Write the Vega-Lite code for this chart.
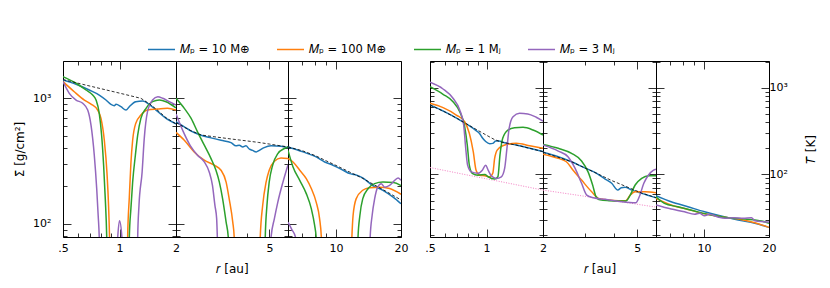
{
"$schema":"https://vega.github.io/schema/vega-lite/v6.json",
"autosize":{"type":"pad"},
"padding":{"left":13,"top":35,"right":0,"bottom":0},
"background":"white",
"datasets":{"d":[
{"s":"S","p":1,"k":"a","r":0.5,"v":1400},{"s":"S","p":1,"k":"a","r":0.587,"v":1294},{"s":"S","p":1,"k":"a","r":0.69,"v":1165},{"s":"S","p":1,"k":"a","r":0.78,"v":1062},{"s":"S","p":1,"k":"a","r":0.847,"v":969},{"s":"S","p":1,"k":"a","r":0.9,"v":895},{"s":"S","p":1,"k":"a","r":0.938,"v":873},{"s":"S","p":1,"k":"a","r":0.958,"v":895},{"s":"S","p":1,"k":"a","r":1.018,"v":857},{"s":"S","p":1,"k":"a","r":1.083,"v":806},{"s":"S","p":1,"k":"a","r":1.128,"v":857},{"s":"S","p":1,"k":"a","r":1.22,"v":940},{"s":"S","p":1,"k":"a","r":1.33,"v":951},{"s":"S","p":1,"k":"a","r":1.44,"v":895},{"s":"S","p":1,"k":"a","r":1.565,"v":806},{"s":"S","p":1,"k":"a","r":1.77,"v":692},{"s":"S","p":1,"k":"a","r":2,"v":625},
{"s":"S","p":1,"k":"b","r":0.5,"v":1358},{"s":"S","p":1,"k":"b","r":0.574,"v":1129},{"s":"S","p":1,"k":"b","r":0.65,"v":969},{"s":"S","p":1,"k":"b","r":0.705,"v":900},{"s":"S","p":1,"k":"b","r":0.765,"v":806},{"s":"S","p":1,"k":"b","r":0.797,"v":692},{"s":"S","p":1,"k":"b","r":0.83,"v":463},{"s":"S","p":1,"k":"b","r":0.858,"v":251},{"s":"S","p":1,"k":"b","r":0.875,"v":136},{"s":"S","p":1,"k":"b","r":0.885,"v":78},{"s":"S","p":1,"k":"b","r":0.895,"v":30},{"s":"S","p":1,"k":"b","r":1.095,"v":30},{"s":"S","p":1,"k":"b","r":1.105,"v":78},{"s":"S","p":1,"k":"b","r":1.128,"v":163},{"s":"S","p":1,"k":"b","r":1.15,"v":302},{"s":"S","p":1,"k":"b","r":1.175,"v":463},{"s":"S","p":1,"k":"b","r":1.22,"v":631},{"s":"S","p":1,"k":"b","r":1.3,"v":735},{"s":"S","p":1,"k":"b","r":1.41,"v":806},{"s":"S","p":1,"k":"b","r":1.6,"v":821},{"s":"S","p":1,"k":"b","r":1.8,"v":832},{"s":"S","p":1,"k":"b","r":2,"v":806},
{"s":"S","p":1,"k":"c","r":0.5,"v":1489},{"s":"S","p":1,"k":"c","r":0.587,"v":1318},{"s":"S","p":1,"k":"c","r":0.663,"v":1165},{"s":"S","p":1,"k":"c","r":0.72,"v":1062},{"s":"S","p":1,"k":"c","r":0.75,"v":969},{"s":"S","p":1,"k":"c","r":0.78,"v":759},{"s":"S","p":1,"k":"c","r":0.803,"v":508},{"s":"S","p":1,"k":"c","r":0.823,"v":293},{"s":"S","p":1,"k":"c","r":0.84,"v":158},{"s":"S","p":1,"k":"c","r":0.855,"v":78},{"s":"S","p":1,"k":"c","r":0.865,"v":30},{"s":"S","p":1,"k":"c","r":1.115,"v":30},{"s":"S","p":1,"k":"c","r":1.128,"v":78},{"s":"S","p":1,"k":"c","r":1.15,"v":132},{"s":"S","p":1,"k":"c","r":1.175,"v":215},{"s":"S","p":1,"k":"c","r":1.215,"v":352},{"s":"S","p":1,"k":"c","r":1.25,"v":508},{"s":"S","p":1,"k":"c","r":1.3,"v":692},{"s":"S","p":1,"k":"c","r":1.385,"v":832},{"s":"S","p":1,"k":"c","r":1.5,"v":940},{"s":"S","p":1,"k":"c","r":1.63,"v":969},{"s":"S","p":1,"k":"c","r":1.77,"v":940},{"s":"S","p":1,"k":"c","r":2,"v":840},
{"s":"S","p":1,"k":"d","r":0.5,"v":1358},{"s":"S","p":1,"k":"d","r":0.54,"v":1096},{"s":"S","p":1,"k":"d","r":0.587,"v":969},{"s":"S","p":1,"k":"d","r":0.637,"v":912},{"s":"S","p":1,"k":"d","r":0.677,"v":806},{"s":"S","p":1,"k":"d","r":0.705,"v":611},{"s":"S","p":1,"k":"d","r":0.734,"v":352},{"s":"S","p":1,"k":"d","r":0.756,"v":191},{"s":"S","p":1,"k":"d","r":0.77,"v":116},{"s":"S","p":1,"k":"d","r":0.78,"v":78},{"s":"S","p":1,"k":"d","r":0.79,"v":30},{"s":"S","p":1,"k":"d","r":0.95,"v":30},{"s":"S","p":1,"k":"d","r":0.978,"v":78},{"s":"S","p":1,"k":"d","r":1.0,"v":106},{"s":"S","p":1,"k":"d","r":1.03,"v":78},{"s":"S","p":1,"k":"d","r":1.06,"v":30},{"s":"S","p":1,"k":"d","r":1.24,"v":30},{"s":"S","p":1,"k":"d","r":1.25,"v":78},{"s":"S","p":1,"k":"d","r":1.27,"v":140},{"s":"S","p":1,"k":"d","r":1.32,"v":259},{"s":"S","p":1,"k":"d","r":1.355,"v":479},{"s":"S","p":1,"k":"d","r":1.41,"v":782},{"s":"S","p":1,"k":"d","r":1.5,"v":969},{"s":"S","p":1,"k":"d","r":1.6,"v":1030},{"s":"S","p":1,"k":"d","r":1.7,"v":1000},{"s":"S","p":1,"k":"d","r":1.84,"v":940},{"s":"S","p":1,"k":"d","r":2,"v":883},
{"s":"S","p":1,"k":"ref","r":0.5,"v":1410},{"s":"S","p":1,"k":"ref","r":0.7,"v":1249},{"s":"S","p":1,"k":"ref","r":1.0,"v":1100},{"s":"S","p":1,"k":"ref","r":1.3,"v":1000},{"s":"S","p":1,"k":"ref","r":1.45,"v":900},{"s":"S","p":1,"k":"ref","r":1.6,"v":800},{"s":"S","p":1,"k":"ref","r":1.77,"v":700},{"s":"S","p":1,"k":"ref","r":2,"v":625},
{"s":"S","p":2,"k":"a","r":2,"v":650},{"s":"S","p":2,"k":"a","r":2.17,"v":592},{"s":"S","p":2,"k":"a","r":2.32,"v":547},{"s":"S","p":2,"k":"a","r":2.56,"v":508},{"s":"S","p":2,"k":"a","r":2.82,"v":484},{"s":"S","p":2,"k":"a","r":3.11,"v":463},{"s":"S","p":2,"k":"a","r":3.43,"v":444},{"s":"S","p":2,"k":"a","r":3.6,"v":418},{"s":"S","p":2,"k":"a","r":3.72,"v":423},{"s":"S","p":2,"k":"a","r":3.85,"v":410},{"s":"S","p":2,"k":"a","r":3.97,"v":418},{"s":"S","p":2,"k":"a","r":4.11,"v":393},{"s":"S","p":2,"k":"a","r":4.24,"v":385},{"s":"S","p":2,"k":"a","r":4.39,"v":374},{"s":"S","p":2,"k":"a","r":4.53,"v":385},{"s":"S","p":2,"k":"a","r":4.75,"v":405},{"s":"S","p":2,"k":"a","r":5.08,"v":418},{"s":"S","p":2,"k":"a","r":5.6,"v":415},{"s":"S","p":2,"k":"a","r":6,"v":403},
{"s":"S","p":2,"k":"b","r":2,"v":535},{"s":"S","p":2,"k":"b","r":2.17,"v":463},{"s":"S","p":2,"k":"b","r":2.39,"v":374},{"s":"S","p":2,"k":"b","r":2.64,"v":321},{"s":"S","p":2,"k":"b","r":2.91,"v":293},{"s":"S","p":2,"k":"b","r":3.11,"v":267},{"s":"S","p":2,"k":"b","r":3.27,"v":215},{"s":"S","p":2,"k":"b","r":3.37,"v":158},{"s":"S","p":2,"k":"b","r":3.49,"v":103},{"s":"S","p":2,"k":"b","r":3.54,"v":78},{"s":"S","p":2,"k":"b","r":3.58,"v":30},{"s":"S","p":2,"k":"b","r":4.53,"v":30},{"s":"S","p":2,"k":"b","r":4.57,"v":78},{"s":"S","p":2,"k":"b","r":4.68,"v":140},{"s":"S","p":2,"k":"b","r":4.84,"v":215},{"s":"S","p":2,"k":"b","r":4.99,"v":267},{"s":"S","p":2,"k":"b","r":5.25,"v":315},{"s":"S","p":2,"k":"b","r":5.6,"v":335},{"s":"S","p":2,"k":"b","r":6,"v":331},
{"s":"S","p":2,"k":"c","r":2,"v":1000},{"s":"S","p":2,"k":"c","r":2.17,"v":832},{"s":"S","p":2,"k":"c","r":2.32,"v":692},{"s":"S","p":2,"k":"c","r":2.47,"v":541},{"s":"S","p":2,"k":"c","r":2.64,"v":423},{"s":"S","p":2,"k":"c","r":2.82,"v":331},{"s":"S","p":2,"k":"c","r":2.96,"v":267},{"s":"S","p":2,"k":"c","r":3.06,"v":215},{"s":"S","p":2,"k":"c","r":3.16,"v":158},{"s":"S","p":2,"k":"c","r":3.27,"v":103},{"s":"S","p":2,"k":"c","r":3.34,"v":78},{"s":"S","p":2,"k":"c","r":3.38,"v":30},{"s":"S","p":2,"k":"c","r":4.76,"v":30},{"s":"S","p":2,"k":"c","r":4.8,"v":78},{"s":"S","p":2,"k":"c","r":4.88,"v":140},{"s":"S","p":2,"k":"c","r":4.99,"v":215},{"s":"S","p":2,"k":"c","r":5.16,"v":293},{"s":"S","p":2,"k":"c","r":5.43,"v":363},{"s":"S","p":2,"k":"c","r":5.79,"v":398},{"s":"S","p":2,"k":"c","r":6,"v":410},
{"s":"S","p":2,"k":"d","r":2,"v":750},{"s":"S","p":2,"k":"d","r":2.15,"v":540},{"s":"S","p":2,"k":"d","r":2.3,"v":420},{"s":"S","p":2,"k":"d","r":2.47,"v":352},{"s":"S","p":2,"k":"d","r":2.64,"v":311},{"s":"S","p":2,"k":"d","r":2.77,"v":259},{"s":"S","p":2,"k":"d","r":2.86,"v":202},{"s":"S","p":2,"k":"d","r":2.93,"v":140},{"s":"S","p":2,"k":"d","r":2.98,"v":110},{"s":"S","p":2,"k":"d","r":3.0,"v":78},{"s":"S","p":2,"k":"d","r":3.04,"v":30},{"s":"S","p":2,"k":"d","r":5.04,"v":30},{"s":"S","p":2,"k":"d","r":5.08,"v":78},{"s":"S","p":2,"k":"d","r":5.25,"v":110},{"s":"S","p":2,"k":"d","r":5.43,"v":149},{"s":"S","p":2,"k":"d","r":5.71,"v":215},{"s":"S","p":2,"k":"d","r":6,"v":295},
{"s":"S","p":2,"k":"ref","r":2,"v":640},{"s":"S","p":2,"k":"ref","r":2.3,"v":555},{"s":"S","p":2,"k":"ref","r":2.56,"v":510},{"s":"S","p":2,"k":"ref","r":3,"v":490},{"s":"S","p":2,"k":"ref","r":3.5,"v":472},{"s":"S","p":2,"k":"ref","r":4,"v":458},{"s":"S","p":2,"k":"ref","r":4.5,"v":445},{"s":"S","p":2,"k":"ref","r":5,"v":432},{"s":"S","p":2,"k":"ref","r":5.5,"v":420},{"s":"S","p":2,"k":"ref","r":6,"v":410},
{"s":"S","p":3,"k":"a","r":6,"v":410},{"s":"S","p":3,"k":"a","r":7.04,"v":374},{"s":"S","p":3,"k":"a","r":8.1,"v":341},{"s":"S","p":3,"k":"a","r":8.87,"v":311},{"s":"S","p":3,"k":"a","r":9.69,"v":293},{"s":"S","p":3,"k":"a","r":10.8,"v":267},{"s":"S","p":3,"k":"a","r":11.6,"v":251},{"s":"S","p":3,"k":"a","r":12.2,"v":247},{"s":"S","p":3,"k":"a","r":13.3,"v":232},{"s":"S","p":3,"k":"a","r":14.8,"v":202},{"s":"S","p":3,"k":"a","r":16.5,"v":185},{"s":"S","p":3,"k":"a","r":18.4,"v":163},{"s":"S","p":3,"k":"a","r":20,"v":144.5},
{"s":"S","p":3,"k":"b","r":6,"v":331},{"s":"S","p":3,"k":"b","r":6.33,"v":311},{"s":"S","p":3,"k":"b","r":6.8,"v":267},{"s":"S","p":3,"k":"b","r":7.29,"v":229},{"s":"S","p":3,"k":"b","r":7.69,"v":191},{"s":"S","p":3,"k":"b","r":8.1,"v":149},{"s":"S","p":3,"k":"b","r":8.4,"v":110},{"s":"S","p":3,"k":"b","r":8.56,"v":78},{"s":"S","p":3,"k":"b","r":8.7,"v":30},{"s":"S","p":3,"k":"b","r":11.65,"v":30},{"s":"S","p":3,"k":"b","r":11.85,"v":78},{"s":"S","p":3,"k":"b","r":12.0,"v":116},{"s":"S","p":3,"k":"b","r":12.4,"v":158},{"s":"S","p":3,"k":"b","r":13.3,"v":185},{"s":"S","p":3,"k":"b","r":14.3,"v":194},{"s":"S","p":3,"k":"b","r":15.9,"v":196},{"s":"S","p":3,"k":"b","r":17.7,"v":191},{"s":"S","p":3,"k":"b","r":20,"v":172},
{"s":"S","p":3,"k":"c","r":6,"v":385},{"s":"S","p":3,"k":"c","r":6.33,"v":284},{"s":"S","p":3,"k":"c","r":6.8,"v":222},{"s":"S","p":3,"k":"c","r":7.29,"v":174},{"s":"S","p":3,"k":"c","r":7.69,"v":132},{"s":"S","p":3,"k":"c","r":7.97,"v":97},{"s":"S","p":3,"k":"c","r":8.1,"v":78},{"s":"S","p":3,"k":"c","r":8.25,"v":30},{"s":"S","p":3,"k":"c","r":12.5,"v":30},{"s":"S","p":3,"k":"c","r":12.65,"v":78},{"s":"S","p":3,"k":"c","r":12.9,"v":116},{"s":"S","p":3,"k":"c","r":13.3,"v":158},{"s":"S","p":3,"k":"c","r":14.1,"v":191},{"s":"S","p":3,"k":"c","r":15.1,"v":209},{"s":"S","p":3,"k":"c","r":16.5,"v":215},{"s":"S","p":3,"k":"c","r":18.4,"v":213},{"s":"S","p":3,"k":"c","r":20,"v":202},
{"s":"S","p":3,"k":"d","r":6,"v":103},{"s":"S","p":3,"k":"d","r":6.25,"v":90},{"s":"S","p":3,"k":"d","r":6.5,"v":78},{"s":"S","p":3,"k":"d","r":6.7,"v":30},{"s":"S","p":3,"k":"d","r":14.2,"v":30},{"s":"S","p":3,"k":"d","r":14.4,"v":78},{"s":"S","p":3,"k":"d","r":14.7,"v":116},{"s":"S","p":3,"k":"d","r":15.1,"v":158},{"s":"S","p":3,"k":"d","r":15.6,"v":196},{"s":"S","p":3,"k":"d","r":16.2,"v":209},{"s":"S","p":3,"k":"d","r":16.8,"v":196},{"s":"S","p":3,"k":"d","r":17.7,"v":202},{"s":"S","p":3,"k":"d","r":18.7,"v":222},{"s":"S","p":3,"k":"d","r":19.4,"v":232},{"s":"S","p":3,"k":"d","r":20,"v":222},
{"s":"S","p":3,"k":"ref","r":6,"v":410},{"s":"S","p":3,"k":"ref","r":7,"v":382},{"s":"S","p":3,"k":"ref","r":8,"v":350},{"s":"S","p":3,"k":"ref","r":9,"v":318},{"s":"S","p":3,"k":"ref","r":10,"v":292},{"s":"S","p":3,"k":"ref","r":11.6,"v":258},{"s":"S","p":3,"k":"ref","r":13.3,"v":230},{"s":"S","p":3,"k":"ref","r":15,"v":205},{"s":"S","p":3,"k":"ref","r":17,"v":182},{"s":"S","p":3,"k":"ref","r":20,"v":155},
{"s":"T","p":1,"k":"iso","r":0.5,"v":120},{"s":"T","p":1,"k":"iso","r":1,"v":89},{"s":"T","p":1,"k":"iso","r":2,"v":66},
{"s":"T","p":1,"k":"a","r":0.5,"v":631},{"s":"T","p":1,"k":"a","r":0.6,"v":525},{"s":"T","p":1,"k":"a","r":0.7,"v":440},{"s":"T","p":1,"k":"a","r":0.8,"v":370},{"s":"T","p":1,"k":"a","r":0.88,"v":320},{"s":"T","p":1,"k":"a","r":0.92,"v":295},{"s":"T","p":1,"k":"a","r":0.95,"v":265},{"s":"T","p":1,"k":"a","r":0.99,"v":240},{"s":"T","p":1,"k":"a","r":1.04,"v":226},{"s":"T","p":1,"k":"a","r":1.08,"v":228},{"s":"T","p":1,"k":"a","r":1.12,"v":243},{"s":"T","p":1,"k":"a","r":1.16,"v":243},{"s":"T","p":1,"k":"a","r":1.25,"v":232},{"s":"T","p":1,"k":"a","r":1.44,"v":218},{"s":"T","p":1,"k":"a","r":1.7,"v":200},{"s":"T","p":1,"k":"a","r":2,"v":183},
{"s":"T","p":1,"k":"b","r":0.5,"v":661},{"s":"T","p":1,"k":"b","r":0.587,"v":588},{"s":"T","p":1,"k":"b","r":0.69,"v":484},{"s":"T","p":1,"k":"b","r":0.765,"v":405},{"s":"T","p":1,"k":"b","r":0.81,"v":298},{"s":"T","p":1,"k":"b","r":0.85,"v":183},{"s":"T","p":1,"k":"b","r":0.88,"v":112},{"s":"T","p":1,"k":"b","r":0.92,"v":98},{"s":"T","p":1,"k":"b","r":0.98,"v":96.6},{"s":"T","p":1,"k":"b","r":1.04,"v":94},{"s":"T","p":1,"k":"b","r":1.08,"v":103},{"s":"T","p":1,"k":"b","r":1.105,"v":153},{"s":"T","p":1,"k":"b","r":1.14,"v":191},{"s":"T","p":1,"k":"b","r":1.22,"v":214},{"s":"T","p":1,"k":"b","r":1.44,"v":229},{"s":"T","p":1,"k":"b","r":1.7,"v":214},{"s":"T","p":1,"k":"b","r":2,"v":200},
{"s":"T","p":1,"k":"c","r":0.5,"v":1027},{"s":"T","p":1,"k":"c","r":0.587,"v":839},{"s":"T","p":1,"k":"c","r":0.663,"v":690},{"s":"T","p":1,"k":"c","r":0.72,"v":529},{"s":"T","p":1,"k":"c","r":0.765,"v":355},{"s":"T","p":1,"k":"c","r":0.79,"v":218},{"s":"T","p":1,"k":"c","r":0.81,"v":128},{"s":"T","p":1,"k":"c","r":0.84,"v":103},{"s":"T","p":1,"k":"c","r":0.9,"v":98},{"s":"T","p":1,"k":"c","r":0.98,"v":100},{"s":"T","p":1,"k":"c","r":1.02,"v":94},{"s":"T","p":1,"k":"c","r":1.105,"v":88.5},{"s":"T","p":1,"k":"c","r":1.15,"v":94},{"s":"T","p":1,"k":"c","r":1.18,"v":168},{"s":"T","p":1,"k":"c","r":1.22,"v":261},{"s":"T","p":1,"k":"c","r":1.3,"v":325},{"s":"T","p":1,"k":"c","r":1.41,"v":346},{"s":"T","p":1,"k":"c","r":1.565,"v":349},{"s":"T","p":1,"k":"c","r":1.77,"v":325},{"s":"T","p":1,"k":"c","r":2,"v":285},
{"s":"T","p":1,"k":"d","r":0.5,"v":1154},{"s":"T","p":1,"k":"d","r":0.587,"v":966},{"s":"T","p":1,"k":"d","r":0.663,"v":755},{"s":"T","p":1,"k":"d","r":0.72,"v":553},{"s":"T","p":1,"k":"d","r":0.756,"v":371},{"s":"T","p":1,"k":"d","r":0.775,"v":200},{"s":"T","p":1,"k":"d","r":0.793,"v":128},{"s":"T","p":1,"k":"d","r":0.83,"v":107},{"s":"T","p":1,"k":"d","r":0.9,"v":103},{"s":"T","p":1,"k":"d","r":0.95,"v":112},{"s":"T","p":1,"k":"d","r":0.99,"v":128},{"s":"T","p":1,"k":"d","r":1.02,"v":112},{"s":"T","p":1,"k":"d","r":1.06,"v":96.6},{"s":"T","p":1,"k":"d","r":1.128,"v":90},{"s":"T","p":1,"k":"d","r":1.2,"v":94},{"s":"T","p":1,"k":"d","r":1.25,"v":118},{"s":"T","p":1,"k":"d","r":1.285,"v":200},{"s":"T","p":1,"k":"d","r":1.32,"v":340},{"s":"T","p":1,"k":"d","r":1.385,"v":463},{"s":"T","p":1,"k":"d","r":1.5,"v":507},{"s":"T","p":1,"k":"d","r":1.66,"v":498},{"s":"T","p":1,"k":"d","r":1.84,"v":456},{"s":"T","p":1,"k":"d","r":2,"v":413},
{"s":"T","p":1,"k":"ref","r":0.5,"v":631},{"s":"T","p":1,"k":"ref","r":0.6,"v":525},{"s":"T","p":1,"k":"ref","r":0.7,"v":440},{"s":"T","p":1,"k":"ref","r":0.8,"v":372},{"s":"T","p":1,"k":"ref","r":0.9,"v":322},{"s":"T","p":1,"k":"ref","r":1.0,"v":283},{"s":"T","p":1,"k":"ref","r":1.1,"v":253},{"s":"T","p":1,"k":"ref","r":1.2,"v":236},{"s":"T","p":1,"k":"ref","r":1.44,"v":218},{"s":"T","p":1,"k":"ref","r":1.7,"v":200},{"s":"T","p":1,"k":"ref","r":2,"v":183},
{"s":"T","p":2,"k":"iso","r":2,"v":66},{"s":"T","p":2,"k":"iso","r":3,"v":56},{"s":"T","p":2,"k":"iso","r":6,"v":42},
{"s":"T","p":2,"k":"a","r":2,"v":180},{"s":"T","p":2,"k":"a","r":2.32,"v":160},{"s":"T","p":2,"k":"a","r":2.64,"v":140},{"s":"T","p":2,"k":"a","r":3.0,"v":119},{"s":"T","p":2,"k":"a","r":3.37,"v":103},{"s":"T","p":2,"k":"a","r":3.66,"v":88.5},{"s":"T","p":2,"k":"a","r":3.9,"v":79},{"s":"T","p":2,"k":"a","r":4.14,"v":66},{"s":"T","p":2,"k":"a","r":4.28,"v":70.3},{"s":"T","p":2,"k":"a","r":4.44,"v":71},{"s":"T","p":2,"k":"a","r":4.74,"v":66},{"s":"T","p":2,"k":"a","r":5.22,"v":60.5},{"s":"T","p":2,"k":"a","r":6,"v":53.8},
{"s":"T","p":2,"k":"b","r":2,"v":171},{"s":"T","p":2,"k":"b","r":2.32,"v":153},{"s":"T","p":2,"k":"b","r":2.51,"v":140},{"s":"T","p":2,"k":"b","r":2.68,"v":112},{"s":"T","p":2,"k":"b","r":2.91,"v":86},{"s":"T","p":2,"k":"b","r":3.21,"v":63},{"s":"T","p":2,"k":"b","r":3.43,"v":53},{"s":"T","p":2,"k":"b","r":3.78,"v":50.7},{"s":"T","p":2,"k":"b","r":4.16,"v":49.8},{"s":"T","p":2,"k":"b","r":4.47,"v":49.8},{"s":"T","p":2,"k":"b","r":4.67,"v":57.8},{"s":"T","p":2,"k":"b","r":4.9,"v":63},{"s":"T","p":2,"k":"b","r":5.4,"v":63},{"s":"T","p":2,"k":"b","r":6,"v":61.5},
{"s":"T","p":2,"k":"c","r":2,"v":222},{"s":"T","p":2,"k":"c","r":2.32,"v":200},{"s":"T","p":2,"k":"c","r":2.64,"v":175},{"s":"T","p":2,"k":"c","r":2.91,"v":143},{"s":"T","p":2,"k":"c","r":3.1,"v":107},{"s":"T","p":2,"k":"c","r":3.24,"v":75.5},{"s":"T","p":2,"k":"c","r":3.35,"v":55.3},{"s":"T","p":2,"k":"c","r":3.48,"v":51},{"s":"T","p":2,"k":"c","r":3.8,"v":49.8},{"s":"T","p":2,"k":"c","r":4.22,"v":49.3},{"s":"T","p":2,"k":"c","r":4.47,"v":49.3},{"s":"T","p":2,"k":"c","r":4.67,"v":57.8},{"s":"T","p":2,"k":"c","r":4.9,"v":75.5},{"s":"T","p":2,"k":"c","r":5.22,"v":90},{"s":"T","p":2,"k":"c","r":5.58,"v":96.6},{"s":"T","p":2,"k":"c","r":6,"v":96.6},
{"s":"T","p":2,"k":"d","r":2,"v":218},{"s":"T","p":2,"k":"d","r":2.32,"v":186},{"s":"T","p":2,"k":"d","r":2.55,"v":160},{"s":"T","p":2,"k":"d","r":2.73,"v":118},{"s":"T","p":2,"k":"d","r":2.91,"v":79},{"s":"T","p":2,"k":"d","r":3.06,"v":57.8},{"s":"T","p":2,"k":"d","r":3.26,"v":53.8},{"s":"T","p":2,"k":"d","r":3.66,"v":51.6},{"s":"T","p":2,"k":"d","r":4.3,"v":48.4},{"s":"T","p":2,"k":"d","r":4.93,"v":47.2},{"s":"T","p":2,"k":"d","r":5.1,"v":55.3},{"s":"T","p":2,"k":"d","r":5.33,"v":79},{"s":"T","p":2,"k":"d","r":5.58,"v":98.5},{"s":"T","p":2,"k":"d","r":5.86,"v":112},{"s":"T","p":2,"k":"d","r":6,"v":115},
{"s":"T","p":2,"k":"ref","r":2,"v":180},{"s":"T","p":2,"k":"ref","r":2.64,"v":140},{"s":"T","p":2,"k":"ref","r":3.0,"v":119},{"s":"T","p":2,"k":"ref","r":3.37,"v":103},{"s":"T","p":2,"k":"ref","r":3.9,"v":85},{"s":"T","p":2,"k":"ref","r":4.44,"v":73.4},{"s":"T","p":2,"k":"ref","r":5.22,"v":61},{"s":"T","p":2,"k":"ref","r":6,"v":54},
{"s":"T","p":3,"k":"a","r":6,"v":56.8},{"s":"T","p":3,"k":"a","r":7.05,"v":48.4},{"s":"T","p":3,"k":"a","r":8.43,"v":42.4},{"s":"T","p":3,"k":"a","r":10.07,"v":37.1},{"s":"T","p":3,"k":"a","r":12,"v":33.1},{"s":"T","p":3,"k":"a","r":14.4,"v":29.8},{"s":"T","p":3,"k":"a","r":17.2,"v":27.3},{"s":"T","p":3,"k":"a","r":20,"v":24.5},
{"s":"T","p":3,"k":"b","r":6,"v":53},{"s":"T","p":3,"k":"b","r":7.05,"v":44.4},{"s":"T","p":3,"k":"b","r":8.43,"v":39.5},{"s":"T","p":3,"k":"b","r":10.07,"v":35.2},{"s":"T","p":3,"k":"b","r":12,"v":32.5},{"s":"T","p":3,"k":"b","r":14.4,"v":30.6},{"s":"T","p":3,"k":"b","r":17.2,"v":27.7},{"s":"T","p":3,"k":"b","r":20,"v":24.5},
{"s":"T","p":3,"k":"c","r":6,"v":55.3},{"s":"T","p":3,"k":"c","r":6.56,"v":46.4},{"s":"T","p":3,"k":"c","r":7.57,"v":42.4},{"s":"T","p":3,"k":"c","r":9.05,"v":37.8},{"s":"T","p":3,"k":"c","r":10.8,"v":34},{"s":"T","p":3,"k":"c","r":12.9,"v":31.7},{"s":"T","p":3,"k":"c","r":15.5,"v":30.6},{"s":"T","p":3,"k":"c","r":18.5,"v":29},{"s":"T","p":3,"k":"c","r":20,"v":27.3},
{"s":"T","p":3,"k":"d","r":6,"v":44.4},{"s":"T","p":3,"k":"d","r":7.05,"v":39.9},{"s":"T","p":3,"k":"d","r":8.13,"v":37.1},{"s":"T","p":3,"k":"d","r":9.05,"v":34.7},{"s":"T","p":3,"k":"d","r":9.54,"v":35.6},{"s":"T","p":3,"k":"d","r":10.07,"v":33.4},{"s":"T","p":3,"k":"d","r":10.6,"v":34.7},{"s":"T","p":3,"k":"d","r":11.6,"v":32.3},{"s":"T","p":3,"k":"d","r":12.5,"v":31.2},{"s":"T","p":3,"k":"d","r":13.7,"v":31.7},{"s":"T","p":3,"k":"d","r":15.2,"v":31.2},{"s":"T","p":3,"k":"d","r":16.6,"v":31.7},{"s":"T","p":3,"k":"d","r":17.2,"v":29.3},{"s":"T","p":3,"k":"d","r":18.8,"v":28.5},{"s":"T","p":3,"k":"d","r":20,"v":28.2}
]},
"data":{"name":"d"},
"hconcat":[
{"width":113,"height":176,"transform":[{"filter":"datum.s=='S'&&datum.p==1"}],
 "layer":[
 {"transform":[{"filter":"indexof(['a','b','c','d'],datum.k)>=0"}],
  "mark":{"type":"line","clip":true,"strokeWidth":1.5,"interpolate":"monotone"},
  "encoding":{
   "x":{"field":"r","type":"quantitative","scale":{"type":"log","domain":[0.5,2],"nice":false},"axis":{"orient":"bottom","values":[0.5,0.6,0.7,0.8,0.9,1,2],"tickSize":{"condition":{"test":"datum.value==0.5||datum.value==1||datum.value==2","value":-8},"value":-4},"labelPadding":13,"labelOverlap":false,"labelExpr":"datum.value==0.5?'.5':datum.value==1?'1':datum.value==2?'2':''","title":null}},
   "y":{"field":"v","type":"quantitative","scale":{"type":"log","domain":[78.5,1983],"nice":false},"axis":{"orient":"left","values":[80,90,100,200,300,400,500,600,700,800,900,1000],"tickSize":{"condition":{"test":"datum.value==100||datum.value==1000","value":-8},"value":-4},"labelPadding":20,"labelOverlap":false,"labelExpr":"datum.value==1000?'10³':datum.value==100?'10²':''","title":"Σ̄ [g/cm²]","titlePadding":6}},
   "color":{"field":"k","type":"nominal","scale":{"domain":["a","b","c","d"],"range":["#1f77b4","#ff7f0e","#2ca02c","#9467bd"]},
     "legend":{"orient":"none","legendX":84,"legendY":-26,"direction":"horizontal","title":null,"symbolType":"stroke","symbolSize":729,"symbolStrokeWidth":1.5,"labelFont":"DejaVu Sans","labelFontSize":11.5,"labelColor":"black","labelOffset":4,"columnPadding":24,"padding":0,"labelExpr":"datum.value=='a'?'𝑀ₚ = 10 M⊕':datum.value=='b'?'𝑀ₚ = 100 M⊕':datum.value=='c'?'𝑀ₚ = 1 Mⱼ':'𝑀ₚ = 3 Mⱼ'"}}}},
 {"transform":[{"filter":"datum.k=='ref'"}],
  "mark":{"type":"line","clip":true,"color":"black","strokeWidth":0.8,"strokeDash":[3,2]},
  "encoding":{
   "x":{"field":"r","type":"quantitative","scale":{"type":"log","domain":[0.5,2],"nice":false},"axis":{"orient":"top","values":[0.5,0.6,0.7,0.8,0.9,1,2],"tickSize":{"condition":{"test":"datum.value==0.5||datum.value==1||datum.value==2","value":-8},"value":-4},"labels":false,"title":null}},
   "y":{"field":"v","type":"quantitative","scale":{"type":"log","domain":[78.5,1983],"nice":false},"axis":{"orient":"right","values":[80,90,100,200,300,400,500,600,700,800,900,1000],"tickSize":{"condition":{"test":"datum.value==100||datum.value==1000","value":-8},"value":-4},"labels":false,"title":null}}}}
 ],
 "resolve":{"axis":{"x":"independent","y":"independent"}}},
{"width":112,"height":176,"transform":[{"filter":"datum.s=='S'&&datum.p==2"}],
 "layer":[
 {"transform":[{"filter":"indexof(['a','b','c','d'],datum.k)>=0"}],
  "mark":{"type":"line","clip":true,"strokeWidth":1.5,"interpolate":"monotone"},
  "encoding":{
   "x":{"field":"r","type":"quantitative","scale":{"type":"log","domain":[2,6],"nice":false},"axis":{"orient":"bottom","values":[2,3,4,5,6],"tickSize":{"condition":{"test":"datum.value==5","value":-8},"value":-4},"labelPadding":13,"labelOverlap":false,"labelExpr":"datum.value==5?'5':''","title":"𝑟  [au]","titlePadding":6}},
   "y":{"field":"v","type":"quantitative","scale":{"type":"log","domain":[78.5,1983],"nice":false},"axis":{"orient":"left","values":[80,90,100,200,300,400,500,600,700,800,900,1000],"tickSize":{"condition":{"test":"datum.value==100||datum.value==1000","value":-8},"value":-4},"labels":false,"title":null}},
   "color":{"field":"k","type":"nominal","scale":{"domain":["a","b","c","d"],"range":["#1f77b4","#ff7f0e","#2ca02c","#9467bd"]}}}},
 {"transform":[{"filter":"datum.k=='ref'"}],
  "mark":{"type":"line","clip":true,"color":"black","strokeWidth":0.8,"strokeDash":[3,2]},
  "encoding":{
   "x":{"field":"r","type":"quantitative","scale":{"type":"log","domain":[2,6],"nice":false},"axis":{"orient":"top","values":[2,3,4,5,6],"tickSize":{"condition":{"test":"datum.value==5","value":-8},"value":-4},"labels":false,"title":null}},
   "y":{"field":"v","type":"quantitative","scale":{"type":"log","domain":[78.5,1983],"nice":false},"axis":{"orient":"right","values":[80,90,100,200,300,400,500,600,700,800,900,1000],"tickSize":{"condition":{"test":"datum.value==100||datum.value==1000","value":-8},"value":-4},"labels":false,"title":null}}}}
 ],
 "resolve":{"axis":{"x":"independent","y":"independent"}}},
{"width":113,"height":176,"transform":[{"filter":"datum.s=='S'&&datum.p==3"}],
 "layer":[
 {"transform":[{"filter":"indexof(['a','b','c','d'],datum.k)>=0"}],
  "mark":{"type":"line","clip":true,"strokeWidth":1.5,"interpolate":"monotone"},
  "encoding":{
   "x":{"field":"r","type":"quantitative","scale":{"type":"log","domain":[6,20],"nice":false},"axis":{"orient":"bottom","values":[6,7,8,9,10,20],"tickSize":{"condition":{"test":"datum.value==10||datum.value==20","value":-8},"value":-4},"labelPadding":13,"labelOverlap":false,"labelExpr":"datum.value==10?'10':datum.value==20?'20':''","title":null}},
   "y":{"field":"v","type":"quantitative","scale":{"type":"log","domain":[78.5,1983],"nice":false},"axis":{"orient":"left","values":[80,90,100,200,300,400,500,600,700,800,900,1000],"tickSize":{"condition":{"test":"datum.value==100||datum.value==1000","value":-8},"value":-4},"labels":false,"title":null}},
   "color":{"field":"k","type":"nominal","scale":{"domain":["a","b","c","d"],"range":["#1f77b4","#ff7f0e","#2ca02c","#9467bd"]}}}},
 {"transform":[{"filter":"datum.k=='ref'"}],
  "mark":{"type":"line","clip":true,"color":"black","strokeWidth":0.8,"strokeDash":[3,2]},
  "encoding":{
   "x":{"field":"r","type":"quantitative","scale":{"type":"log","domain":[6,20],"nice":false},"axis":{"orient":"top","values":[6,7,8,9,10,20],"tickSize":{"condition":{"test":"datum.value==10||datum.value==20","value":-8},"value":-4},"labels":false,"title":null}},
   "y":{"field":"v","type":"quantitative","scale":{"type":"log","domain":[78.5,1983],"nice":false},"axis":{"orient":"right","values":[80,90,100,200,300,400,500,600,700,800,900,1000],"tickSize":{"condition":{"test":"datum.value==100||datum.value==1000","value":-8},"value":-4},"labels":false,"title":null}}}}
 ],
 "resolve":{"axis":{"x":"independent","y":"independent"}}},
{"width":29,"height":176,"view":{"stroke":null},"transform":[{"filter":"false"}],"mark":{"type":"text","opacity":0},"encoding":{}},
{"width":113,"height":176,"transform":[{"filter":"datum.s=='T'&&datum.p==1"}],
 "layer":[
 {"transform":[{"filter":"datum.k=='iso'"}],
  "mark":{"type":"line","clip":true,"color":"#f47fc4","strokeWidth":1,"strokeDash":[1,1.5]},
  "encoding":{
   "x":{"field":"r","type":"quantitative","scale":{"type":"log","domain":[0.5,2],"nice":false},"axis":null},
   "y":{"field":"v","type":"quantitative","scale":{"type":"log","domain":[19,2030],"nice":false},"axis":null}}},
 {"transform":[{"filter":"indexof(['a','b','c','d'],datum.k)>=0"}],
  "mark":{"type":"line","clip":true,"strokeWidth":1.5,"interpolate":"monotone"},
  "encoding":{
   "x":{"field":"r","type":"quantitative","scale":{"type":"log","domain":[0.5,2],"nice":false},"axis":{"orient":"bottom","values":[0.5,0.6,0.7,0.8,0.9,1,2],"tickSize":{"condition":{"test":"datum.value==0.5||datum.value==1||datum.value==2","value":-8},"value":-4},"labelPadding":13,"labelOverlap":false,"labelExpr":"datum.value==0.5?'.5':datum.value==1?'1':datum.value==2?'2':''","title":null}},
   "y":{"field":"v","type":"quantitative","scale":{"type":"log","domain":[19,2030],"nice":false},"axis":{"orient":"left","values":[20,30,40,50,60,70,80,90,100,200,300,400,500,600,700,800,900,1000,2000],"tickSize":{"condition":{"test":"datum.value==100||datum.value==1000","value":-8},"value":-4},"labels":false,"title":null}},
   "color":{"field":"k","type":"nominal","scale":{"domain":["a","b","c","d"],"range":["#1f77b4","#ff7f0e","#2ca02c","#9467bd"]}}}},
 {"transform":[{"filter":"datum.k=='ref'"}],
  "mark":{"type":"line","clip":true,"color":"black","strokeWidth":0.8,"strokeDash":[3,2]},
  "encoding":{
   "x":{"field":"r","type":"quantitative","scale":{"type":"log","domain":[0.5,2],"nice":false},"axis":{"orient":"top","values":[0.5,0.6,0.7,0.8,0.9,1,2],"tickSize":{"condition":{"test":"datum.value==0.5||datum.value==1||datum.value==2","value":-8},"value":-4},"labels":false,"title":null}},
   "y":{"field":"v","type":"quantitative","scale":{"type":"log","domain":[19,2030],"nice":false},"axis":{"orient":"right","values":[20,30,40,50,60,70,80,90,100,200,300,400,500,600,700,800,900,1000,2000],"tickSize":{"condition":{"test":"datum.value==100||datum.value==1000","value":-8},"value":-4},"labels":false,"title":null}}}}
 ],
 "resolve":{"axis":{"x":"independent","y":"independent"}}},
{"width":113,"height":176,"transform":[{"filter":"datum.s=='T'&&datum.p==2"}],
 "layer":[
 {"transform":[{"filter":"datum.k=='iso'"}],
  "mark":{"type":"line","clip":true,"color":"#f47fc4","strokeWidth":1,"strokeDash":[1,1.5]},
  "encoding":{
   "x":{"field":"r","type":"quantitative","scale":{"type":"log","domain":[2,6],"nice":false},"axis":null},
   "y":{"field":"v","type":"quantitative","scale":{"type":"log","domain":[19,2030],"nice":false},"axis":null}}},
 {"transform":[{"filter":"indexof(['a','b','c','d'],datum.k)>=0"}],
  "mark":{"type":"line","clip":true,"strokeWidth":1.5,"interpolate":"monotone"},
  "encoding":{
   "x":{"field":"r","type":"quantitative","scale":{"type":"log","domain":[2,6],"nice":false},"axis":{"orient":"bottom","values":[2,3,4,5,6],"tickSize":{"condition":{"test":"datum.value==5","value":-8},"value":-4},"labelPadding":13,"labelOverlap":false,"labelExpr":"datum.value==5?'5':''","title":"𝑟  [au]","titlePadding":6}},
   "y":{"field":"v","type":"quantitative","scale":{"type":"log","domain":[19,2030],"nice":false},"axis":{"orient":"left","values":[20,30,40,50,60,70,80,90,100,200,300,400,500,600,700,800,900,1000,2000],"tickSize":{"condition":{"test":"datum.value==100||datum.value==1000","value":-8},"value":-4},"labels":false,"title":null}},
   "color":{"field":"k","type":"nominal","scale":{"domain":["a","b","c","d"],"range":["#1f77b4","#ff7f0e","#2ca02c","#9467bd"]}}}},
 {"transform":[{"filter":"datum.k=='ref'"}],
  "mark":{"type":"line","clip":true,"color":"black","strokeWidth":0.8,"strokeDash":[3,2]},
  "encoding":{
   "x":{"field":"r","type":"quantitative","scale":{"type":"log","domain":[2,6],"nice":false},"axis":{"orient":"top","values":[2,3,4,5,6],"tickSize":{"condition":{"test":"datum.value==5","value":-8},"value":-4},"labels":false,"title":null}},
   "y":{"field":"v","type":"quantitative","scale":{"type":"log","domain":[19,2030],"nice":false},"axis":{"orient":"right","values":[20,30,40,50,60,70,80,90,100,200,300,400,500,600,700,800,900,1000,2000],"tickSize":{"condition":{"test":"datum.value==100||datum.value==1000","value":-8},"value":-4},"labels":false,"title":null}}}}
 ],
 "resolve":{"axis":{"x":"independent","y":"independent"}}},
{"width":113,"height":176,"transform":[{"filter":"datum.s=='T'&&datum.p==3"}],
 "layer":[
 {"transform":[{"filter":"indexof(['a','b','c','d'],datum.k)>=0"}],
  "mark":{"type":"line","clip":true,"strokeWidth":1.5,"interpolate":"monotone"},
  "encoding":{
   "x":{"field":"r","type":"quantitative","scale":{"type":"log","domain":[6,20],"nice":false},"axis":{"orient":"bottom","values":[6,7,8,9,10,20],"tickSize":{"condition":{"test":"datum.value==10||datum.value==20","value":-8},"value":-4},"labelPadding":13,"labelOverlap":false,"labelExpr":"datum.value==10?'10':datum.value==20?'20':''","title":null}},
   "y":{"field":"v","type":"quantitative","scale":{"type":"log","domain":[19,2030],"nice":false},"axis":{"orient":"left","values":[20,30,40,50,60,70,80,90,100,200,300,400,500,600,700,800,900,1000,2000],"tickSize":{"condition":{"test":"datum.value==100||datum.value==1000","value":-8},"value":-4},"labels":false,"title":null}},
   "color":{"field":"k","type":"nominal","scale":{"domain":["a","b","c","d"],"range":["#1f77b4","#ff7f0e","#2ca02c","#9467bd"]}}}},
 {"transform":[{"filter":"datum.k=='ref'"}],
  "mark":{"type":"line","clip":true,"color":"black","strokeWidth":0.8,"strokeDash":[3,2]},
  "encoding":{
   "x":{"field":"r","type":"quantitative","scale":{"type":"log","domain":[6,20],"nice":false},"axis":{"orient":"top","values":[6,7,8,9,10,20],"tickSize":{"condition":{"test":"datum.value==10||datum.value==20","value":-8},"value":-4},"labels":false,"title":null}},
   "y":{"field":"v","type":"quantitative","scale":{"type":"log","domain":[19,2030],"nice":false},"axis":{"orient":"right","values":[20,30,40,50,60,70,80,90,100,200,300,400,500,600,700,800,900,1000,2000],"tickSize":{"condition":{"test":"datum.value==100||datum.value==1000","value":-8},"value":-4},"labelPadding":8,"labelOverlap":false,"labelExpr":"datum.value==1000?'10³':datum.value==100?'10²':''","title":"𝑇̄ [K]","titleAngle":270,"titlePadding":30}}}}
 ],
 "resolve":{"axis":{"x":"independent","y":"independent"}}}
],
"spacing":0,"bounds":"flush",
"config":{
 "view":{"stroke":"black","strokeWidth":1},
 "axis":{"domain":false,"grid":false,"tickColor":"black","tickWidth":0.8,"labelFont":"DejaVu Sans","labelFontSize":11,"labelColor":"black","titleFont":"DejaVu Sans","titleFontSize":12,"titleFontWeight":"normal","titleColor":"black","labelFlush":false}
}
}
